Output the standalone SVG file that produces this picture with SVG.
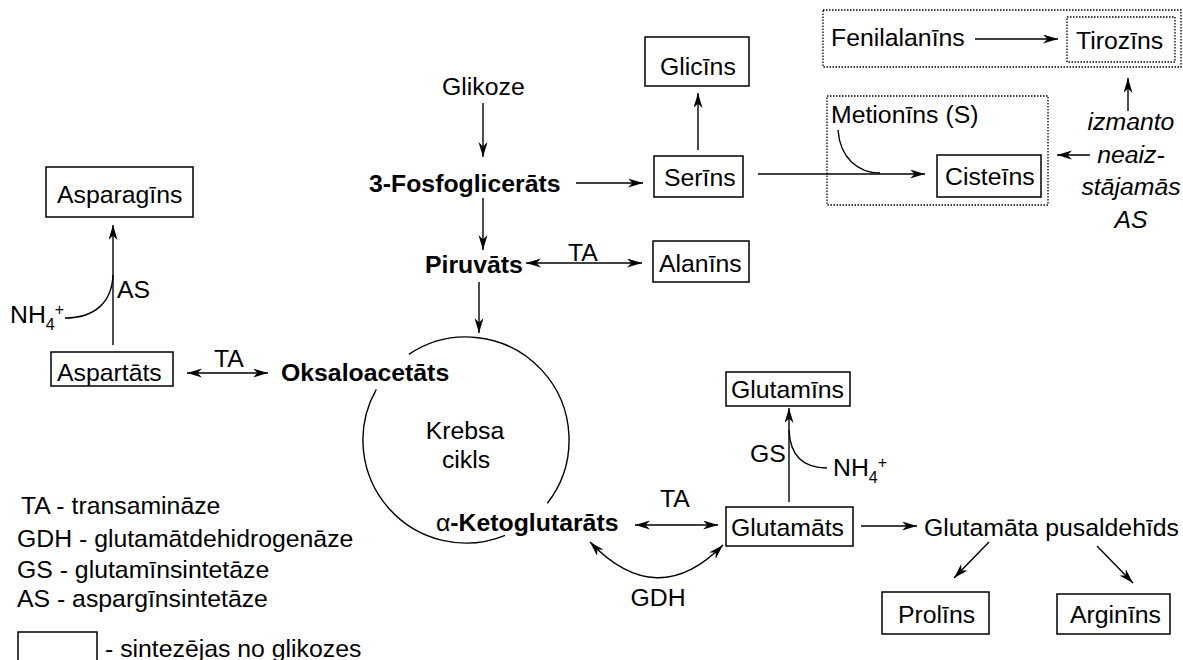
<svg xmlns="http://www.w3.org/2000/svg" width="1183" height="660" viewBox="0 0 1183 660">
<style>
text{font-family:"Liberation Sans",Arial,sans-serif;font-size:24.8px;fill:#000}
.b{font-weight:bold}
.it{font-style:italic}
.mid{text-anchor:middle}
.box{fill:none;stroke:#000;stroke-width:1.5}
.dot{fill:none;stroke:#000;stroke-width:1.3;stroke-dasharray:1.5 1.5}
.ln{fill:none;stroke:#000;stroke-width:1.4}
.ar{marker-end:url(#ah)}
.ar2{marker-start:url(#ah);marker-end:url(#ah)}
.sm{font-size:16px}
</style>
<defs>
<marker id="ah" markerUnits="userSpaceOnUse" markerWidth="16" markerHeight="10" refX="15" refY="4.5" orient="auto-start-reverse" viewBox="0 0 16 10">
<path d="M0,0 L15,4.5 L0,9 L4.5,4.5 z" fill="#000"/>
</marker>
</defs>
<rect width="1183" height="660" fill="#fff"/>

<g id="groups">
<rect class="dot" x="823" y="10" width="358" height="57"/>
<rect class="dot" x="827" y="96" width="221" height="109"/>
</g>

<g id="connectors">
<line class="ln ar" x1="975" y1="39" x2="1058" y2="39"/>
<line class="ln ar" x1="1128" y1="111" x2="1128" y2="78"/>
<line class="ln ar" x1="1090" y1="155" x2="1057" y2="155"/>
<line class="ln ar" x1="483" y1="103" x2="483" y2="157"/>
<line class="ln ar" x1="576" y1="183" x2="643" y2="183"/>
<line class="ln ar" x1="698" y1="150" x2="698" y2="93"/>
<line class="ln ar" x1="758" y1="174" x2="925" y2="174"/>
<path class="ln" d="M838,130 C840,158 858,173 880,173"/>
<line class="ln ar" x1="483" y1="198" x2="483" y2="250"/>
<line class="ln ar2" x1="526" y1="263" x2="642" y2="263"/>
<line class="ln ar" x1="479" y1="282" x2="479" y2="333"/>
<line class="ln ar2" x1="187" y1="373" x2="268" y2="373"/>
<line class="ln ar" x1="113" y1="345" x2="113" y2="225"/>
<path class="ln" d="M65,318 C95,318 112,302 113,275"/>
<path class="ln" d="M408.9,354.3 A103,103 0 0 1 547.3,503.3 M505.1,535.3 A103,103 0 0 1 376.3,389.3"/>
<line class="ln ar2" x1="635" y1="525" x2="718" y2="525"/>
<path class="ln ar2" d="M590,542 Q657,612 723,545"/>
<line class="ln ar" x1="789" y1="502" x2="789" y2="408"/>
<path class="ln" d="M827,468 C802,468 790,455 789,430"/>
<line class="ln ar" x1="861" y1="526" x2="917" y2="526"/>
<line class="ln ar" x1="989" y1="542" x2="954" y2="578"/>
<line class="ln ar" x1="1097" y1="546" x2="1133" y2="583"/>
</g>

<g id="fenilalanins"><text x="831" y="46">Fenilalanīns</text></g>
<g id="tirozins"><rect class="dot" x="1067" y="17" width="108" height="45"/><text x="1076" y="49">Tirozīns</text></g>
<g id="izmanto"><text class="it mid" x="1131" y="130">izmanto</text><text class="it mid" x="1131" y="163">neaiz-</text><text class="it mid" x="1131" y="195">stājamās</text><text class="it mid" x="1131" y="228">AS</text></g>
<g id="glikoze"><text x="442" y="95">Glikoze</text></g>
<g id="glicins"><rect class="box" x="645" y="37" width="104" height="49"/><text x="660" y="75">Glicīns</text></g>
<g id="fosfoglicerats"><text class="b" x="369" y="192">3-Fosfoglicerāts</text></g>
<g id="serins"><rect class="box" x="654" y="156" width="89" height="41"/><text x="664" y="186">Serīns</text></g>
<g id="metionins"><text x="831" y="123">Metionīns (S)</text></g>
<g id="cisteins"><rect class="box" x="937" y="155" width="104" height="42"/><text x="945" y="185">Cisteīns</text></g>
<g id="piruvats"><text class="b" x="425" y="273">Piruvāts</text></g>
<g id="ta1"><text class="mid" x="583" y="261">TA</text></g>
<g id="alanins"><rect class="box" x="653" y="241" width="96" height="41"/><text x="659" y="272">Alanīns</text></g>
<g id="asparagins"><rect class="box" x="46" y="167" width="147" height="50"/><text x="57" y="203">Asparagīns</text></g>
<g id="as"><text x="117" y="298">AS</text></g>
<g id="nh4a"><text x="10" y="323">NH<tspan class="sm" dy="7">4</tspan><tspan class="sm" dy="-15">+</tspan></text></g>
<g id="aspartats"><rect class="box" x="51" y="352" width="122" height="34"/><text x="57" y="381">Aspartāts</text></g>
<g id="ta2"><text class="mid" x="229" y="367">TA</text></g>
<g id="oksaloacetats"><text class="b" x="281" y="381">Oksaloacetāts</text></g>
<g id="krebs"><text class="mid" x="465" y="439">Krebsa</text><text class="mid" x="466" y="468">cikls</text></g>
<g id="ketoglutarats"><text class="b" x="436" y="531"><tspan font-weight="normal">α</tspan>-Ketoglutarāts</text></g>
<g id="ta3"><text class="mid" x="675" y="507">TA</text></g>
<g id="gdh"><text class="mid" x="658" y="606">GDH</text></g>
<g id="glutamins"><rect class="box" x="726" y="372" width="124" height="34"/><text x="731" y="398">Glutamīns</text></g>
<g id="gs"><text x="750" y="462">GS</text></g>
<g id="nh4b"><text x="833" y="476">NH<tspan class="sm" dy="7">4</tspan><tspan class="sm" dy="-15">+</tspan></text></g>
<g id="glutamats"><rect class="box" x="726" y="507" width="127" height="39"/><text x="731" y="536">Glutamāts</text></g>
<g id="pusaldehids"><text x="924" y="536">Glutamāta pusaldehīds</text></g>
<g id="prolins"><rect class="box" x="882" y="592" width="107" height="42"/><text x="898" y="623">Prolīns</text></g>
<g id="arginins"><rect class="box" x="1057" y="594" width="113" height="40"/><text x="1070" y="623">Arginīns</text></g>

<g id="legend">
<text x="21" y="514">TA - transamināze</text>
<text x="17" y="547">GDH - glutamātdehidrogenāze</text>
<text x="17" y="578">GS - glutamīnsintetāze</text>
<text x="17" y="607">AS - aspargīnsintetāze</text>
<rect class="box" x="18" y="632" width="79" height="40"/>
<text x="105" y="657">- sintezējas no glikozes</text>
</g>
</svg>
